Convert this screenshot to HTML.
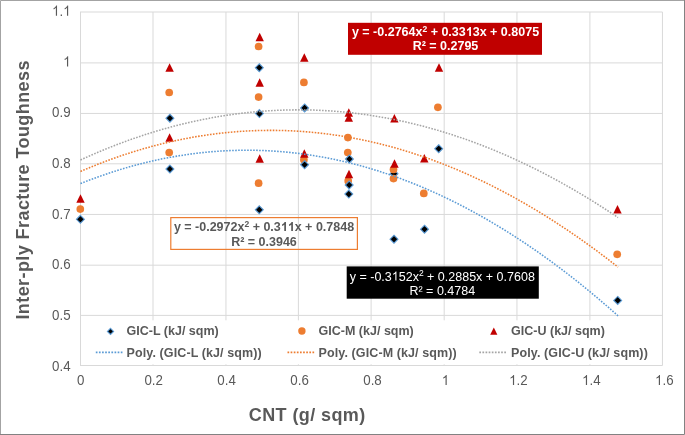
<!DOCTYPE html>
<html><head><meta charset="utf-8"><style>
html,body{margin:0;padding:0;background:#fff;}
body{width:685px;height:435px;overflow:hidden;}
svg{display:block;-webkit-font-smoothing:antialiased;font-family:"Liberation Sans",sans-serif;}
</style></head><body>
<svg style="will-change:transform" width="685" height="435" viewBox="0 0 685 435">
<rect x="0" y="0" width="685" height="435" fill="#fff"/>
<g stroke="#d9d9d9" stroke-width="1"><line x1="80" y1="12.00" x2="662.5" y2="12.00"/><line x1="80" y1="62.90" x2="662.5" y2="62.90"/><line x1="80" y1="113.45" x2="662.5" y2="113.45"/><line x1="80" y1="163.80" x2="662.5" y2="163.80"/><line x1="80" y1="214.45" x2="662.5" y2="214.45"/><line x1="80" y1="265.20" x2="662.5" y2="265.20"/><line x1="80" y1="315.40" x2="662.5" y2="315.40"/><line x1="80" y1="365.50" x2="662.5" y2="365.50"/><line x1="80.50" y1="12" x2="80.50" y2="365.5"/><line x1="153.00" y1="12" x2="153.00" y2="365.5"/><line x1="225.95" y1="12" x2="225.95" y2="365.5"/><line x1="298.40" y1="12" x2="298.40" y2="365.5"/><line x1="371.10" y1="12" x2="371.10" y2="365.5"/><line x1="444.20" y1="12" x2="444.20" y2="365.5"/><line x1="516.95" y1="12" x2="516.95" y2="365.5"/><line x1="589.90" y1="12" x2="589.90" y2="365.5"/><line x1="662.45" y1="12" x2="662.45" y2="365.5"/></g>
<g fill="#595959" font-size="13.33"><g transform="translate(52.07,15.75) scale(1,1.06)"><text x="0" y="0">&#x2007;.&#x2007;</text><path transform="translate(0.00,0) scale(0.00651,-0.00651)" d="M763 0H583V1147Q518 1085 412 1023Q306 961 222 930V1104Q373 1175 486 1276Q599 1377 646 1472H763Z"/><path transform="translate(11.12,0) scale(0.00651,-0.00651)" d="M763 0H583V1147Q518 1085 412 1023Q306 961 222 930V1104Q373 1175 486 1276Q599 1377 646 1472H763Z"/></g><g transform="translate(63.19,66.45) scale(1,1.06)"><text x="0" y="0">&#x2007;</text><path transform="translate(0.00,0) scale(0.00651,-0.00651)" d="M763 0H583V1147Q518 1085 412 1023Q306 961 222 930V1104Q373 1175 486 1276Q599 1377 646 1472H763Z"/></g><g transform="translate(52.07,117.15) scale(1,1.06)"><text x="0" y="0">0.9</text></g><g transform="translate(52.07,167.85) scale(1,1.06)"><text x="0" y="0">0.8</text></g><g transform="translate(52.07,218.55) scale(1,1.06)"><text x="0" y="0">0.7</text></g><g transform="translate(52.07,269.25) scale(1,1.06)"><text x="0" y="0">0.6</text></g><g transform="translate(52.07,319.95) scale(1,1.06)"><text x="0" y="0">0.5</text></g><g transform="translate(52.07,370.65) scale(1,1.06)"><text x="0" y="0">0.4</text></g><g transform="translate(76.99,385.00) scale(1,1.05)"><text x="0" y="0">0</text></g><g transform="translate(144.38,385.00) scale(1,1.05)"><text x="0" y="0">0.2</text></g><g transform="translate(217.33,385.00) scale(1,1.05)"><text x="0" y="0">0.4</text></g><g transform="translate(290.28,385.00) scale(1,1.05)"><text x="0" y="0">0.6</text></g><g transform="translate(363.23,385.00) scale(1,1.05)"><text x="0" y="0">0.8</text></g><g transform="translate(441.74,385.00) scale(1,1.05)"><text x="0" y="0">&#x2007;</text><path transform="translate(0.00,0) scale(0.00651,-0.00651)" d="M763 0H583V1147Q518 1085 412 1023Q306 961 222 930V1104Q373 1175 486 1276Q599 1377 646 1472H763Z"/></g><g transform="translate(509.13,385.00) scale(1,1.05)"><text x="0" y="0">&#x2007;.2</text><path transform="translate(0.00,0) scale(0.00651,-0.00651)" d="M763 0H583V1147Q518 1085 412 1023Q306 961 222 930V1104Q373 1175 486 1276Q599 1377 646 1472H763Z"/></g><g transform="translate(582.08,385.00) scale(1,1.05)"><text x="0" y="0">&#x2007;.4</text><path transform="translate(0.00,0) scale(0.00651,-0.00651)" d="M763 0H583V1147Q518 1085 412 1023Q306 961 222 930V1104Q373 1175 486 1276Q599 1377 646 1472H763Z"/></g><g transform="translate(655.03,385.00) scale(1,1.05)"><text x="0" y="0">&#x2007;.6</text><path transform="translate(0.00,0) scale(0.00651,-0.00651)" d="M763 0H583V1147Q518 1085 412 1023Q306 961 222 930V1104Q373 1175 486 1276Q599 1377 646 1472H763Z"/></g></g>
<text x="0" y="0" transform="translate(29.2,319.6) rotate(-90)" font-size="18" font-weight="bold" fill="#595959" letter-spacing="0.42">Inter-ply Fracture Toughness</text>
<text x="248.8" y="420.8" font-size="18" font-weight="bold" fill="#595959" letter-spacing="0.4">CNT (g/ sqm)</text>
<g fill="#000" stroke="#5b9bd5" stroke-width="1.1"><path d="M394.00 169.75L397.95 173.70L394.00 177.65L390.05 173.70Z"/></g>
<g fill="#ed7d31"><circle cx="80.30" cy="209.10" r="3.85"/><circle cx="169.20" cy="92.50" r="3.85"/><circle cx="169.20" cy="152.60" r="3.85"/><circle cx="258.60" cy="46.50" r="3.85"/><circle cx="258.60" cy="97.10" r="3.85"/><circle cx="258.60" cy="183.20" r="3.85"/><circle cx="303.90" cy="82.40" r="3.85"/><circle cx="303.90" cy="159.80" r="3.85"/><circle cx="347.90" cy="137.60" r="3.85"/><circle cx="347.80" cy="152.50" r="3.85"/><circle cx="348.20" cy="180.90" r="3.85"/><circle cx="423.80" cy="193.40" r="3.85"/><circle cx="437.90" cy="107.30" r="3.85"/><circle cx="617.20" cy="254.30" r="3.85"/><circle cx="393.50" cy="169.40" r="3.85"/><circle cx="393.50" cy="178.60" r="3.85"/></g>
<g fill="#c00000"><path d="M80.50 194.36L84.70 202.84L76.30 202.84Z"/><path d="M169.60 63.26L173.80 71.74L165.40 71.74Z"/><path d="M169.60 133.36L173.80 141.84L165.40 141.84Z"/><path d="M259.70 32.86L263.90 41.34L255.50 41.34Z"/><path d="M259.70 78.36L263.90 86.84L255.50 86.84Z"/><path d="M259.70 154.26L263.90 162.74L255.50 162.74Z"/><path d="M304.30 53.26L308.50 61.74L300.10 61.74Z"/><path d="M304.30 149.26L308.50 157.74L300.10 157.74Z"/><path d="M348.80 108.26L353.00 116.74L344.60 116.74Z"/><path d="M348.80 113.26L353.00 121.74L344.60 121.74Z"/><path d="M349.00 169.66L353.20 178.14L344.80 178.14Z"/><path d="M394.40 114.06L398.60 122.54L390.20 122.54Z"/><path d="M394.50 159.26L398.70 167.74L390.30 167.74Z"/><path d="M424.30 154.06L428.50 162.54L420.10 162.54Z"/><path d="M439.00 63.26L443.20 71.74L434.80 71.74Z"/><path d="M617.50 204.96L621.70 213.44L613.30 213.44Z"/></g>
<g fill="#000" stroke="#5b9bd5" stroke-width="1.1"><path d="M80.40 215.35L84.35 219.30L80.40 223.25L76.45 219.30Z"/><path d="M169.90 114.25L173.85 118.20L169.90 122.15L165.95 118.20Z"/><path d="M169.90 165.05L173.85 169.00L169.90 172.95L165.95 169.00Z"/><path d="M259.30 63.75L263.25 67.70L259.30 71.65L255.35 67.70Z"/><path d="M259.40 109.65L263.35 113.60L259.40 117.55L255.45 113.60Z"/><path d="M259.30 205.85L263.25 209.80L259.30 213.75L255.35 209.80Z"/><path d="M304.60 103.95L308.55 107.90L304.60 111.85L300.65 107.90Z"/><path d="M304.60 160.75L308.55 164.70L304.60 168.65L300.65 164.70Z"/><path d="M349.40 155.05L353.35 159.00L349.40 162.95L345.45 159.00Z"/><path d="M349.20 181.05L353.15 185.00L349.20 188.95L345.25 185.00Z"/><path d="M348.80 190.15L352.75 194.10L348.80 198.05L344.85 194.10Z"/><path d="M394.00 235.25L397.95 239.20L394.00 243.15L390.05 239.20Z"/><path d="M424.50 225.25L428.45 229.20L424.50 233.15L420.55 229.20Z"/><path d="M438.70 144.75L442.65 148.70L438.70 152.65L434.75 148.70Z"/><path d="M617.70 296.45L621.65 300.40L617.70 304.35L613.75 300.40Z"/></g>
<polyline points="80.50,183.56 84.98,181.79 89.46,180.07 93.94,178.40 98.42,176.77 102.90,175.20 107.38,173.67 111.85,172.19 116.33,170.76 120.81,169.37 125.29,168.04 129.77,166.75 134.25,165.51 138.73,164.32 143.21,163.18 147.69,162.09 152.17,161.04 156.65,160.04 161.13,159.09 165.61,158.19 170.09,157.34 174.56,156.54 179.04,155.78 183.52,155.07 188.00,154.41 192.48,153.80 196.96,153.24 201.44,152.72 205.92,152.26 210.40,151.84 214.88,151.47 219.36,151.15 223.84,150.87 228.32,150.65 232.80,150.47 237.27,150.34 241.75,150.26 246.23,150.23 250.71,150.25 255.19,150.31 259.67,150.42 264.15,150.59 268.63,150.80 273.11,151.05 277.59,151.36 282.07,151.71 286.55,152.11 291.03,152.57 295.51,153.06 299.98,153.61 304.46,154.21 308.94,154.85 313.42,155.54 317.90,156.28 322.38,157.07 326.86,157.91 331.34,158.79 335.82,159.73 340.30,160.71 344.78,161.74 349.26,162.82 353.74,163.94 358.22,165.12 362.69,166.34 367.17,167.61 371.65,168.93 376.13,170.30 380.61,171.71 385.09,173.18 389.57,174.69 394.05,176.25 398.53,177.86 403.01,179.52 407.49,181.22 411.97,182.98 416.45,184.78 420.93,186.63 425.40,188.53 429.88,190.47 434.36,192.47 438.84,194.51 443.32,196.60 447.80,198.74 452.28,200.93 456.76,203.17 461.24,205.45 465.72,207.79 470.20,210.17 474.68,212.60 479.16,215.07 483.64,217.60 488.11,220.17 492.59,222.80 497.07,225.47 501.55,228.19 506.03,230.95 510.51,233.77 514.99,236.63 519.47,239.55 523.95,242.51 528.43,245.51 532.91,248.57 537.39,251.68 541.87,254.83 546.34,258.03 550.82,261.28 555.30,264.58 559.78,267.93 564.26,271.32 568.74,274.76 573.22,278.25 577.70,281.79 582.18,285.38 586.66,289.02 591.14,292.70 595.62,296.44 600.10,300.22 604.58,304.05 609.05,307.92 613.53,311.85 618.01,315.82" fill="none" stroke="#5b9bd5" stroke-width="1.55" stroke-dasharray="1.6 1.4"/>
<polyline points="80.50,171.44 84.98,169.53 89.46,167.67 93.94,165.85 98.42,164.07 102.90,162.35 107.38,160.66 111.85,159.02 116.33,157.43 120.81,155.89 125.29,154.38 129.77,152.93 134.25,151.52 138.73,150.15 143.21,148.83 147.69,147.56 152.17,146.33 156.65,145.15 161.13,144.01 165.61,142.92 170.09,141.87 174.56,140.87 179.04,139.92 183.52,139.01 188.00,138.14 192.48,137.33 196.96,136.55 201.44,135.82 205.92,135.14 210.40,134.51 214.88,133.91 219.36,133.37 223.84,132.87 228.32,132.41 232.80,132.01 237.27,131.64 241.75,131.32 246.23,131.05 250.71,130.82 255.19,130.64 259.67,130.51 264.15,130.42 268.63,130.37 273.11,130.37 277.59,130.42 282.07,130.51 286.55,130.65 291.03,130.83 295.51,131.06 299.98,131.33 304.46,131.65 308.94,132.01 313.42,132.42 317.90,132.88 322.38,133.38 326.86,133.93 331.34,134.52 335.82,135.16 340.30,135.84 344.78,136.57 349.26,137.34 353.74,138.16 358.22,139.03 362.69,139.94 367.17,140.89 371.65,141.90 376.13,142.94 380.61,144.04 385.09,145.17 389.57,146.36 394.05,147.59 398.53,148.86 403.01,150.18 407.49,151.55 411.97,152.96 416.45,154.42 420.93,155.92 425.40,157.47 429.88,159.06 434.36,160.70 438.84,162.38 443.32,164.11 447.80,165.89 452.28,167.71 456.76,169.58 461.24,171.49 465.72,173.44 470.20,175.45 474.68,177.50 479.16,179.59 483.64,181.73 488.11,183.91 492.59,186.14 497.07,188.42 501.55,190.74 506.03,193.11 510.51,195.52 514.99,197.98 519.47,200.48 523.95,203.03 528.43,205.63 532.91,208.27 537.39,210.95 541.87,213.68 546.34,216.46 550.82,219.28 555.30,222.15 559.78,225.06 564.26,228.02 568.74,231.02 573.22,234.07 577.70,237.17 582.18,240.31 586.66,243.50 591.14,246.73 595.62,250.00 600.10,253.33 604.58,256.70 609.05,260.11 613.53,263.57 618.01,267.07" fill="none" stroke="#ed7d31" stroke-width="1.55" stroke-dasharray="1.6 1.4"/>
<polyline points="80.50,159.98 84.98,157.94 89.46,155.95 93.94,153.99 98.42,152.08 102.90,150.21 107.38,148.39 111.85,146.60 116.33,144.86 120.81,143.16 125.29,141.50 129.77,139.89 134.25,138.31 138.73,136.78 143.21,135.29 147.69,133.85 152.17,132.44 156.65,131.08 161.13,129.76 165.61,128.49 170.09,127.25 174.56,126.06 179.04,124.91 183.52,123.80 188.00,122.74 192.48,121.71 196.96,120.73 201.44,119.79 205.92,118.90 210.40,118.05 214.88,117.23 219.36,116.46 223.84,115.74 228.32,115.05 232.80,114.41 237.27,113.81 241.75,113.26 246.23,112.74 250.71,112.27 255.19,111.84 259.67,111.45 264.15,111.10 268.63,110.80 273.11,110.54 277.59,110.32 282.07,110.14 286.55,110.01 291.03,109.92 295.51,109.87 299.98,109.86 304.46,109.90 308.94,109.97 313.42,110.09 317.90,110.26 322.38,110.46 326.86,110.71 331.34,111.00 335.82,111.33 340.30,111.70 344.78,112.12 349.26,112.58 353.74,113.08 358.22,113.62 362.69,114.21 367.17,114.83 371.65,115.50 376.13,116.22 380.61,116.97 385.09,117.77 389.57,118.61 394.05,119.49 398.53,120.41 403.01,121.38 407.49,122.39 411.97,123.44 416.45,124.53 420.93,125.67 425.40,126.84 429.88,128.06 434.36,129.33 438.84,130.63 443.32,131.98 447.80,133.37 452.28,134.80 456.76,136.28 461.24,137.79 465.72,139.35 470.20,140.95 474.68,142.60 479.16,144.28 483.64,146.01 488.11,147.78 492.59,149.59 497.07,151.45 501.55,153.35 506.03,155.28 510.51,157.27 514.99,159.29 519.47,161.36 523.95,163.47 528.43,165.62 532.91,167.81 537.39,170.05 541.87,172.33 546.34,174.65 550.82,177.01 555.30,179.42 559.78,181.86 564.26,184.35 568.74,186.89 573.22,189.46 577.70,192.08 582.18,194.74 586.66,197.44 591.14,200.18 595.62,202.97 600.10,205.80 604.58,208.67 609.05,211.58 613.53,214.54 618.01,217.53" fill="none" stroke="#a5a5a5" stroke-width="1.55" stroke-dasharray="1.6 1.4"/>
<rect x="84" y="320.3" width="574" height="44" fill="#fff"/>
<g fill="#000" stroke="#5b9bd5" stroke-width="1.1"><path d="M110.50 328.30L113.60 331.40L110.50 334.50L107.40 331.40Z"/></g>
<circle cx="301.9" cy="331.0" r="3.7" fill="#ed7d31"/>
<g fill="#c00000"><path d="M493.80 327.60L497.40 334.87L490.20 334.87Z"/></g>
<line x1="95.8" y1="352.4" x2="123.3" y2="352.4" stroke="#5b9bd5" stroke-width="1.6" stroke-dasharray="1.7 1.42"/>
<line x1="287.5" y1="352.4" x2="314.5" y2="352.4" stroke="#ed7d31" stroke-width="1.6" stroke-dasharray="1.7 1.42"/>
<line x1="479.3" y1="352.4" x2="506.5" y2="352.4" stroke="#a5a5a5" stroke-width="1.6" stroke-dasharray="1.7 1.42"/>
<g font-size="12.5" font-weight="bold" fill="#595959"><text x="126.6" y="335.2">GIC-L (kJ/ sqm)</text><text x="318.6" y="335.2">GIC-M (kJ/ sqm)</text><text x="511.1" y="335.2">GIC-U (kJ/ sqm)</text><text x="126.6" y="356.9" letter-spacing="0.1">Poly. (GIC-L (kJ/ sqm))</text><text x="318.6" y="356.9" letter-spacing="0.1">Poly. (GIC-M (kJ/ sqm))</text><text x="511.1" y="356.9" letter-spacing="0.1">Poly. (GIC-U (kJ/ sqm))</text></g>
<rect x="348" y="22.8" width="194" height="32" fill="#c00000"/>
<g font-size="12.5" font-weight="bold" fill="#fff" text-anchor="middle"><text class="eqt" data-b="1" data-f="#fff" x="445.5" y="36.10">y = -0.2764x<tspan font-size="8.5" dy="-4.2">2</tspan><tspan dy="4.2"> + 0.33&#x2007;3x + 0.8075</tspan></text><text x="445.5" y="50.20">R² = 0.2795</text></g>
<rect x="170.8" y="217.6" width="186.6" height="31.8" fill="none" stroke="#ed7d31" stroke-width="1.2"/>
<g font-size="12.5" font-weight="bold" fill="#595959" text-anchor="middle"><text class="eqt" data-b="1" data-f="#595959" x="264" y="231.10">y = -0.2972x<tspan font-size="8.5" dy="-4.2">2</tspan><tspan dy="4.2"> + 0.3&#x2007;&#x2007;x + 0.7848</tspan></text><text x="264" y="245.80">R² = 0.3946</text></g>
<rect x="346.7" y="266.4" width="192.1" height="32.3" fill="#000"/>
<g font-size="12.5" fill="#fff" text-anchor="middle"><text class="eqt" data-b="0" data-f="#fff" x="442.3" y="280.60">y = -0.3&#x2007;52x<tspan font-size="8.5" dy="-4.2">2</tspan><tspan dy="4.2"> + 0.2885x + 0.7608</tspan></text><text x="442.3" y="294.70">R² = 0.4784</text></g>
<path fill="#fff" transform="translate(465.74,36.10) scale(0.00610,-0.00610)" d="M854 0H573V1059Q419 915 210 846V1101Q320 1137 449 1238Q578 1339 626 1472H854Z"/><path fill="#595959" transform="translate(280.77,231.10) scale(0.00610,-0.00610)" d="M854 0H573V1059Q419 915 210 846V1101Q320 1137 449 1238Q578 1339 626 1472H854Z"/><path fill="#595959" transform="translate(287.72,231.10) scale(0.00610,-0.00610)" d="M854 0H573V1059Q419 915 210 846V1101Q320 1137 449 1238Q578 1339 626 1472H854Z"/><path fill="#fff" transform="translate(391.78,280.60) scale(0.00610,-0.00610)" d="M763 0H583V1147Q518 1085 412 1023Q306 961 222 930V1104Q373 1175 486 1276Q599 1377 646 1472H763Z"/>
<path d="M0.5 435V0.5H685" fill="none" stroke="#a3a3a3" stroke-width="1"/>
<path d="M684.5 0V434.5H0" fill="none" stroke="#828282" stroke-width="1"/>
</svg></body></html>
